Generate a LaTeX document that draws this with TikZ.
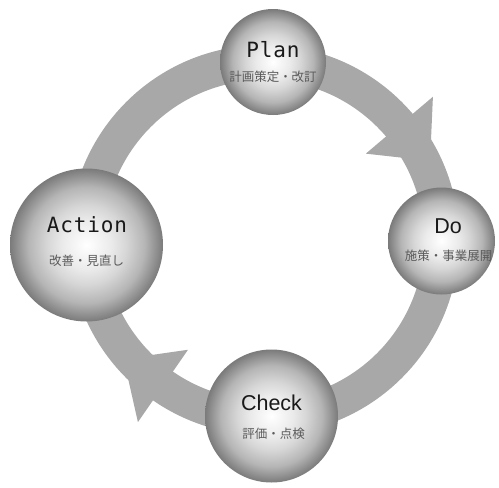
\documentclass[tikz,border=0pt]{standalone}
\usepackage{fontspec}
\setmainfont{Liberation Sans}
\newfontfamily\cjk{Noto Sans CJK JP}
\newfontfamily\monofnt[LetterSpace=4]{DejaVu Sans Mono}
\usepackage{tikz}
\usetikzlibrary{calc}

\definecolor{ringgray}{RGB}{168,168,168}
\definecolor{subgray}{RGB}{90,90,90}
\pgfdeclareradialshading{sphere}{\pgfpoint{0bp}{0bp}}{color(0bp)=(white); color(3bp)=(white!97!black); color(8bp)=(black!8); color(13bp)=(black!16); color(19bp)=(black!29); color(25bp)=(black!52); color(50bp)=(black!52)}

\begin{document}
\begin{tikzpicture}[x=1pt,y=1pt,
  ball/.style={circle,shade,shading=sphere,inner sep=0pt},
  monotitle/.style={font=\fontsize{21}{21}\monofnt,text=black!90},
  sanstitle/.style={font=\fontsize{21.5}{21.5}\selectfont,text=black!90},
  subtitle/.style={font=\fontsize{12.5}{12.5}\cjk,text=subgray}]
\useasboundingbox (0,0) rectangle (499,-488);
\coordinate (o) at (264,-240);

% ring band
\fill[ringgray,even odd rule] (o) circle (195) (o) circle (160);

% arrow heads on the ring
\fill[ringgray] ($(o)+(40.3:221.5)$) -- ($(o)+(40.3:133.5)$) -- ($(o)+(25.5:184)$) -- cycle;
\fill[ringgray] ($(o)+(235.3:221.5)$) -- ($(o)+(235.3:133.5)$) -- ($(o)+(220.3:184)$) -- cycle;

% spheres
\node (plan) at (273,-62) [ball,minimum size=106]{};
\node (do) at (441.5,-241) [ball,minimum size=107]{};
\node (check) at (271.5,-416) [ball,minimum size=133]{};
\node (action) at (86.5,-245) [ball,minimum size=153]{};

% labels
\node (plan-t) at (273,-49.5) [monotitle]{Plan};
\node (plan-j) at (273,-76.5) [subtitle]{計画策定・改訂};
\node (do-t) at (448,-226.5) [sanstitle]{Do};
\node (do-j) at (448.5,-256) [subtitle]{施策・事業展開};
\node (check-t) at (271.5,-402.5) [sanstitle]{Check};
\node (check-j) at (273.5,-434) [subtitle]{評価・点検};
\node (action-t) at (87,-225) [monotitle]{Action};
\node (action-j) at (86.5,-261) [subtitle]{改善・見直し};

\end{tikzpicture}
\end{document}
